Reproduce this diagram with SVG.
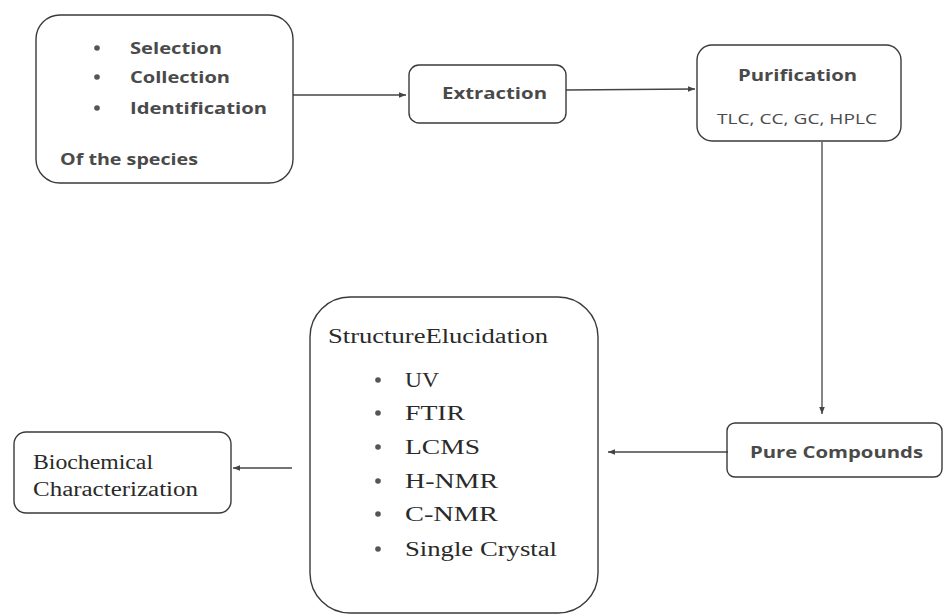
<svg xmlns="http://www.w3.org/2000/svg" width="943" height="615" viewBox="0 0 943 615">
<defs>
<marker id="ah" viewBox="0 0 10 10" refX="10" refY="5" markerWidth="7" markerHeight="7" orient="auto" markerUnits="userSpaceOnUse">
<path d="M0,1 L10,5 L0,9 z" fill="#444"/>
</marker>
<style>
.box{fill:none;stroke:#3a3a3a;stroke-width:1.4}
.sans{font-family:"Open Sans","Liberation Sans",sans-serif;font-weight:bold;fill:#4a4a4a;font-size:16px}
.sansl{font-family:"Open Sans","Liberation Sans",sans-serif;fill:#4a4a4a;font-size:15px}
.serif{font-family:"Liberation Serif","DejaVu Serif",serif;fill:#2a2a2a;font-size:20px}
.dot{fill:#555}
.conn{stroke:#444;stroke-width:1.3;fill:none;marker-end:url(#ah)}
</style>
</defs>
<rect width="943" height="615" fill="#fff"/>
<g id="connectors">
<line class="conn" x1="293" y1="95" x2="406" y2="95"/>
<line class="conn" x1="566" y1="90" x2="695" y2="89"/>
<line class="conn" x1="822" y1="142" x2="822" y2="414"/>
<line class="conn" x1="728" y1="452" x2="608" y2="452"/>
<line class="conn" x1="292" y1="468" x2="233" y2="468"/>
</g>
<g id="selection">
<rect class="box" x="36" y="15" width="257" height="168" rx="24"/>
<circle class="dot" cx="97" cy="48" r="2.8"/>
<circle class="dot" cx="97" cy="77" r="2.8"/>
<circle class="dot" cx="97" cy="108" r="2.8"/>
<text class="sans" x="130" y="54" textLength="92" lengthAdjust="spacingAndGlyphs">Selection</text>
<text class="sans" x="130" y="83" textLength="100" lengthAdjust="spacingAndGlyphs">Collection</text>
<text class="sans" x="130" y="114" textLength="137" lengthAdjust="spacingAndGlyphs">Identification</text>
<text class="sans" x="60" y="165" textLength="138" lengthAdjust="spacingAndGlyphs">Of the species</text>
</g>
<g id="extraction">
<rect class="box" x="409" y="65" width="157" height="58" rx="10"/>
<text class="sans" x="442" y="99" textLength="105" lengthAdjust="spacingAndGlyphs">Extraction</text>
</g>
<g id="purification">
<rect class="box" x="697" y="45" width="204" height="96" rx="15"/>
<text class="sans" x="738" y="81" textLength="119" lengthAdjust="spacingAndGlyphs">Purification</text>
<text class="sansl" x="717" y="124" textLength="160" lengthAdjust="spacingAndGlyphs">TLC, CC, GC, HPLC</text>
</g>
<g id="pure-compounds">
<rect class="box" x="727" y="423" width="215" height="54" rx="8"/>
<text class="sans" x="750" y="458" textLength="173" lengthAdjust="spacingAndGlyphs">Pure Compounds</text>
</g>
<g id="structure-elucidation">
<rect class="box" x="310" y="297" width="288" height="316" rx="40"/>
<text class="serif" x="328" y="343" textLength="220" lengthAdjust="spacingAndGlyphs">StructureElucidation</text>
<circle class="dot" cx="378" cy="380" r="2.8"/>
<circle class="dot" cx="378" cy="413" r="2.8"/>
<circle class="dot" cx="378" cy="447" r="2.8"/>
<circle class="dot" cx="378" cy="481" r="2.8"/>
<circle class="dot" cx="378" cy="514" r="2.8"/>
<circle class="dot" cx="378" cy="549" r="2.8"/>
<text class="serif" x="405" y="387" textLength="34" lengthAdjust="spacingAndGlyphs">UV</text>
<text class="serif" x="405" y="420" textLength="60" lengthAdjust="spacingAndGlyphs">FTIR</text>
<text class="serif" x="405" y="454" textLength="75" lengthAdjust="spacingAndGlyphs">LCMS</text>
<text class="serif" x="405" y="488" textLength="93" lengthAdjust="spacingAndGlyphs">H-NMR</text>
<text class="serif" x="405" y="521" textLength="93" lengthAdjust="spacingAndGlyphs">C-NMR</text>
<text class="serif" x="405" y="556" textLength="152" lengthAdjust="spacingAndGlyphs">Single Crystal</text>
</g>
<g id="biochemical">
<rect class="box" x="14" y="432" width="217" height="81" rx="12"/>
<text class="serif" x="33" y="469" textLength="120" lengthAdjust="spacingAndGlyphs">Biochemical</text>
<text class="serif" x="33" y="496" textLength="165" lengthAdjust="spacingAndGlyphs">Characterization</text>
</g>
</svg>
